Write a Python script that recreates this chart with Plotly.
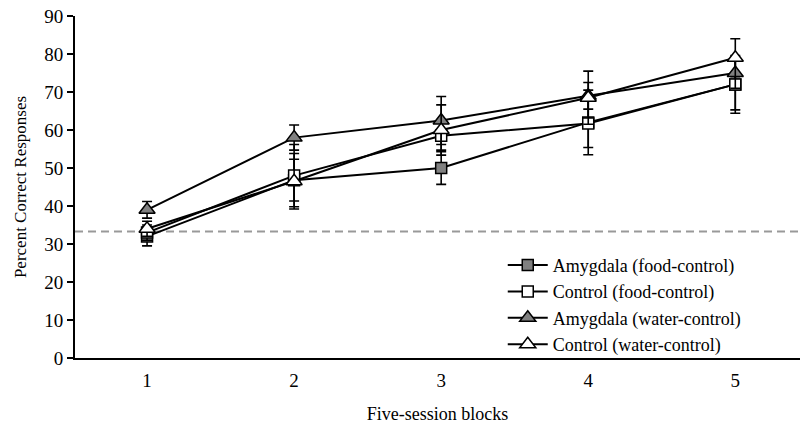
import plotly.graph_objects as go

blocks = [1, 2, 3, 4, 5]
tick_labels = ["1", "2", "3", "4", "5"]

amyg_food = [32, 46.8, 50, 62, 72]
amyg_food_err = [2.5, 5.5, 4.3, 8.5, 7.6]
ctrl_food = [33, 48, 58.5, 61.7, 72]
ctrl_food_err = [2, 8.2, 3.8, 6.3, 6.7]
amyg_water = [39, 58, 62.5, 69, 75]
amyg_water_err = [2.2, 3.3, 6.3, 3.5, 4]
ctrl_water = [34, 46.5, 60, 68.5, 79]
ctrl_water_err = [2, 7.3, 6.6, 7, 5]

chance = 33.3

FONT = "Liberation Serif"

series = [
    ("Amygdala (food-control)", amyg_food, amyg_food_err, "square", "#808080", 11),
    ("Control (food-control)", ctrl_food, ctrl_food_err, "square", "white", 11),
    ("Amygdala (water-control)", amyg_water, amyg_water_err, "triangle-up", "#808080", 14),
    ("Control (water-control)", ctrl_water, ctrl_water_err, "triangle-up", "white", 14),
]

fig = go.Figure()
for name, vals, errs, sym, fill, size in series:
    fig.add_trace(go.Scatter(
        x=blocks, y=vals, name=name, mode="lines+markers",
        line=dict(color="black", width=2),
        marker=dict(symbol=sym, size=size, color=fill,
                    line=dict(color="black", width=1.5)),
        error_y=dict(type="data", array=errs, visible=True,
                     color="black", thickness=1.6, width=5),
    ))

fig.add_shape(type="line", xref="paper", yref="y", x0=0, x1=1,
              y0=chance, y1=chance, layer="below",
              line=dict(color="#999999", width=2, dash="8px,5px"))

fig.update_layout(
    width=802, height=433,
    margin=dict(l=75, r=2, t=16, b=75),
    paper_bgcolor="white", plot_bgcolor="white",
    font=dict(family=FONT, size=18, color="black"),
    showlegend=True,
    legend=dict(x=0.59, y=0.325, xanchor="left", yanchor="top",
                font=dict(family=FONT, size=18, color="black"),
                bgcolor="rgba(0,0,0,0)", tracegroupgap=0,
                itemwidth=40),
    xaxis=dict(range=[0.51, 5.44], tickvals=blocks, ticktext=tick_labels,
               showgrid=False, zeroline=False, showline=True,
               linecolor="black", linewidth=2, automargin=False,
               ticks="outside", ticklen=4, tickcolor="rgba(0,0,0,0)",
               tickfont=dict(family=FONT, size=19),
               title=dict(text="Five-session blocks",
                          font=dict(family=FONT, size=18), standoff=18)),
    yaxis=dict(range=[0, 90], tickvals=list(range(0, 91, 10)),
               showgrid=False, zeroline=False, showline=True,
               linecolor="black", linewidth=2, ticks="outside", automargin=False,
               ticklen=6, tickwidth=2, tickcolor="black",
               tickfont=dict(family=FONT, size=19),
               title=dict(text="Percent Correct Responses",
                          font=dict(family=FONT, size=17), standoff=13)),
)

fig.write_html("out.html",
               config={"displayModeBar": False},
               post_script="document.body.style.margin='0';document.body.style.overflow='hidden';")
